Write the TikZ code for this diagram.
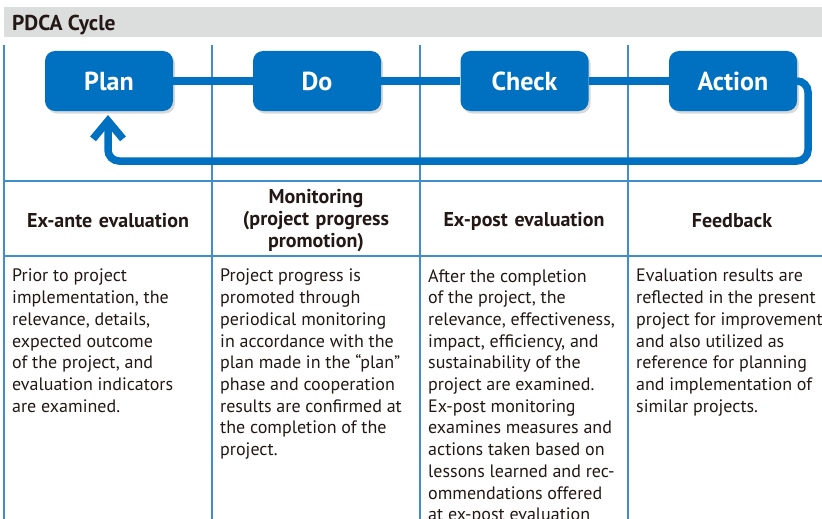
\documentclass[tikz,border=0pt]{standalone}
\usepackage{fontspec}
\setmainfont{PT Sans}
\usetikzlibrary{arrows.meta,shadows}
\definecolor{pdcablue}{RGB}{0,112,192}
\definecolor{gridblue}{RGB}{64,142,206}
\definecolor{bandgray}{RGB}{220,221,221}
\definecolor{inkbrown}{RGB}{35,24,21}

\begin{document}
\begin{tikzpicture}[x=1pt, y=-1pt,
  phase/.style={fill=pdcablue, rounded corners=10pt, minimum width=128pt,
    minimum height=60pt, text=white, font=\bfseries\fontsize{26}{28}\selectfont,
    drop shadow={shadow xshift=2pt, shadow yshift=-2.5pt, opacity=.3}},
  heading/.style={text=inkbrown, font=\bfseries\fontsize{20}{22}\selectfont,
    align=center, text width=196pt},
  body/.style={text=inkbrown, font=\fontsize{18}{21.7}\selectfont,
    align=left, anchor=north west, inner sep=0pt},
  cycleline/.style={draw=pdcablue, line width=7.5pt},
  gridline/.style={draw=gridblue, line width=1.1pt}
  ]
  \useasboundingbox (0,0) rectangle (822,519);
  \clip (0,0) rectangle (822,519);
  \fill[bandgray] (4,7) rectangle (822,37);
  \node[anchor=base west, inner sep=0pt, text=inkbrown,
    font=\bfseries\fontsize{21.5}{24}\selectfont] (title) at (12,31) {PDCA Cycle};

  \foreach \x in {4,212,420,628}
    \draw[gridline] (\x,45) -- (\x,519);
  \foreach \y in {181,256}
    \draw[gridline] (4,\y) -- (822,\y);

  \node[phase] (plan) at (109,81) {Plan};
  \node[phase] (do) at (317,81) {Do};
  \node[phase] (check) at (524.5,81) {Check};
  \node[phase] (action) at (733,81) {Action};

  \coordinate (turn) at (808,161);
  \coordinate (tip) at (108,115);
  \draw[cycleline] (plan) -- (do);
  \draw[cycleline] (do) -- (check);
  \draw[cycleline] (check) -- (action);
  \draw[cycleline, rounded corners=11pt, -{Straight Barb[length=18pt,width=30pt]}]
    (action.east) -- (action.east -| turn) -- (turn) -- (turn -| tip) -- (tip);

  \node[heading] (exante) at (108,221) {Ex-ante evaluation};
  \node[heading] (monitor) at (316,221) {Monitoring\\(project progress\\promotion)};
  \node[heading] (expost) at (524,221) {Ex-post evaluation};
  \node[heading] (feedback) at (732,221) {Feedback};

  \node[body] (exantetext) at (12,269) {Prior to project\\implementation, the\\relevance, details,\\expected outcome\\of the project, and\\evaluation indicators\\are examined.};
  \node[body] (monitortext) at (220,269) {Project progress is\\promoted through\\periodical monitoring\\in accordance with the\\plan made in the “plan”\\phase and cooperation\\results are confirmed at\\the completion of the\\project.};
  \node[body] (exposttext) at (428,269) {After the completion\\of the project, the\\relevance, effectiveness,\\impact, efficiency, and\\sustainability of the\\project are examined.\\Ex-post monitoring\\examines measures and\\actions taken based on\\lessons learned and rec-\\ommendations offered\\at ex-post evaluation};
  \node[body] (feedbacktext) at (636,269) {Evaluation results are\\reflected in the present\\project for improvement\\and also utilized as\\reference for planning\\and implementation of\\similar projects.};
\end{tikzpicture}
\end{document}
